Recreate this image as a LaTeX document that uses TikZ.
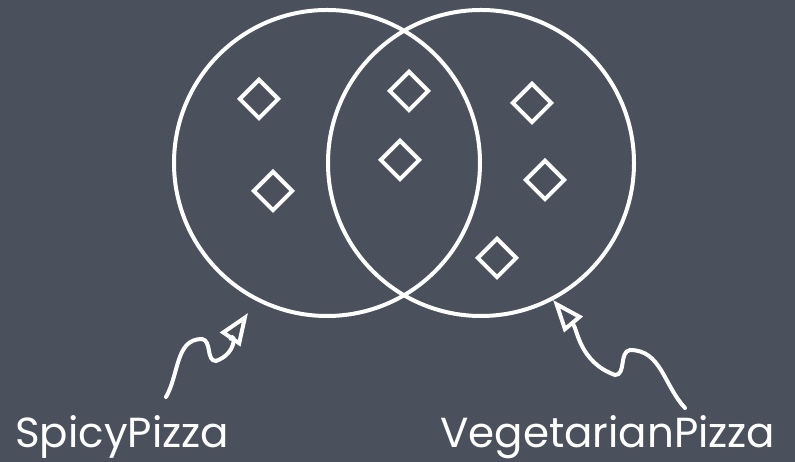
\documentclass[tikz,border=0pt]{standalone}
\usepackage{fontspec}
\setmainfont{Poppins}
\usetikzlibrary{shapes.geometric,arrows.meta}
\definecolor{board}{RGB}{74,80,92}
\tikzset{
  chalk/.style={draw=white, line width=4pt},
  setcircle/.style={chalk, circle, minimum size=306pt, inner sep=0pt},
  item/.style={chalk, diamond, minimum width=40pt, minimum height=40pt, inner sep=0pt},
  pointer/.style={white, line width=4pt, line cap=round, -{Triangle[open, length=32pt, width=24pt, line width=4pt]}},
  label/.style={text=white, font=\fontsize{42}{50}\selectfont, anchor=base west, inner sep=0pt}
}
\begin{document}
\begin{tikzpicture}[x=1pt,y=1pt]
\useasboundingbox (0,0) rectangle (795,462);
\fill[board] (0,0) rectangle (795,462);
\node[setcircle] (spicy) at (327,299) {};
\node[setcircle] (veg) at (481,299) {};
\node[item] (d1) at (259,363) {};
\node[item] (d2) at (273,271) {};
\node[item] (d3) at (409,371) {};
\node[item] (d4) at (400,302) {};
\node[item] (d5) at (532,359) {};
\node[item] (d6) at (545,282) {};
\node[item] (d7) at (497,204) {};
\node[label] (ls) at (15,14) {SpicyPizza};
\node[label] (lv) at (440,14) {VegetarianPizza};
\coordinate (t1) at (166,65);
\coordinate (p1) at (202,123);
\coordinate (q1) at (216,101);
\coordinate (a1) at (248,149);
\coordinate (t2) at (685,54);
\coordinate (p2) at (630,112);
\coordinate (q2) at (615,87);
\coordinate (a2) at (553,162);
\draw[pointer] (t1) to[out=60,in=180] (p1) to[out=-10,in=180] (q1) to[out=20,in=236] (a1);
\draw[pointer] (t2) to[out=133,in=0] (p2) to[out=190,in=0] (q2) to[out=160,in=-50] (a2);
\end{tikzpicture}
\end{document}
